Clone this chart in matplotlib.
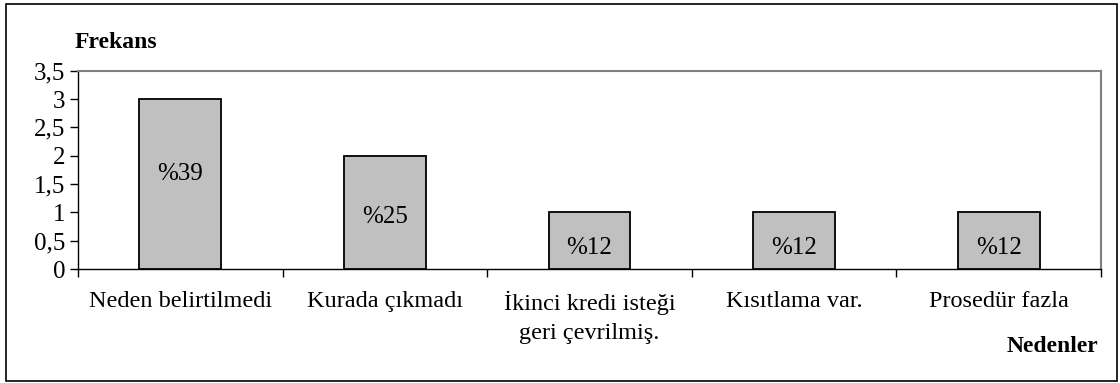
import matplotlib.pyplot as plt
from matplotlib.patches import Rectangle
from matplotlib.ticker import FuncFormatter

# Data
reasons = ["Neden belirtilmedi", "Kurada çıkmadı", "İkinci kredi isteği\ngeri çevrilmiş.",
           "Kısıtlama var.", "Prosedür fazla"]
frequencies = [3, 2, 1, 1, 1]
percent_labels = ["%39", "%25", "%12", "%12", "%12"]

plt.rcParams['font.family'] = ['Liberation Serif', 'DejaVu Serif']

fig = plt.figure(figsize=(11.2, 3.83), dpi=100)
ax = fig.add_axes([78 / 1120, 1 - 269 / 383, (1101 - 78) / 1120, (269 - 70.7) / 383])

x = range(len(reasons))
bars = ax.bar(x, frequencies, width=0.4, color='#c0c0c0', edgecolor='black', linewidth=1.3, zorder=3)

# percentage text inside each bar, roughly mid-height
nudges = [7, -3, -5, -5, -5]
for bar, text, dy in zip(bars, percent_labels, nudges):
    ax.annotate(text, (bar.get_x() + bar.get_width() / 2, bar.get_height() / 2),
                xytext=(0, dy), textcoords='offset points',
                ha='center', va='center', fontsize=18)

ax.set_xlim(-0.5, len(reasons) - 0.5)
ax.set_ylim(0, 3.5)
ax.set_yticks([0, 0.5, 1, 1.5, 2, 2.5, 3, 3.5])
ax.yaxis.set_major_formatter(FuncFormatter(lambda v, p: f"{v:g}".replace('.', ',')))

# category boundaries get the tick marks, names sit between them
ax.set_xticks([i - 0.5 for i in range(len(reasons) + 1)])
ax.set_xticklabels([])
ax.set_xticks(list(x), minor=True)
ax.set_xticklabels(reasons, minor=True, fontsize=17.5, linespacing=1.45)
ax.tick_params(axis='x', which='minor', length=0, pad=16)
ax.tick_params(axis='x', which='major', length=6, width=1, color='black')
ax.tick_params(axis='y', length=6, width=1, labelsize=18, pad=3)

for side in ['top', 'right']:
    ax.spines[side].set_color('#808080')
    ax.spines[side].set_linewidth(1.5)
for side in ['left', 'bottom']:
    ax.spines[side].set_color('black')
    ax.spines[side].set_linewidth(1)

fig.text(75 / 1120, 1 - 42 / 383, "Frekans", fontsize=17, fontweight='bold', ha='left', va='center')
fig.text(1098 / 1120, 1 - 347 / 383, "Nedenler", fontsize=17, fontweight='bold', ha='right', va='center')

# outer frame around the whole chart
fig.patches.append(Rectangle((6 / 1120, 2 / 383), 1111 / 1120, 377 / 383, transform=fig.transFigure,
                             fill=False, edgecolor='black', linewidth=1.2))

fig.savefig("out.png", dpi=100)
